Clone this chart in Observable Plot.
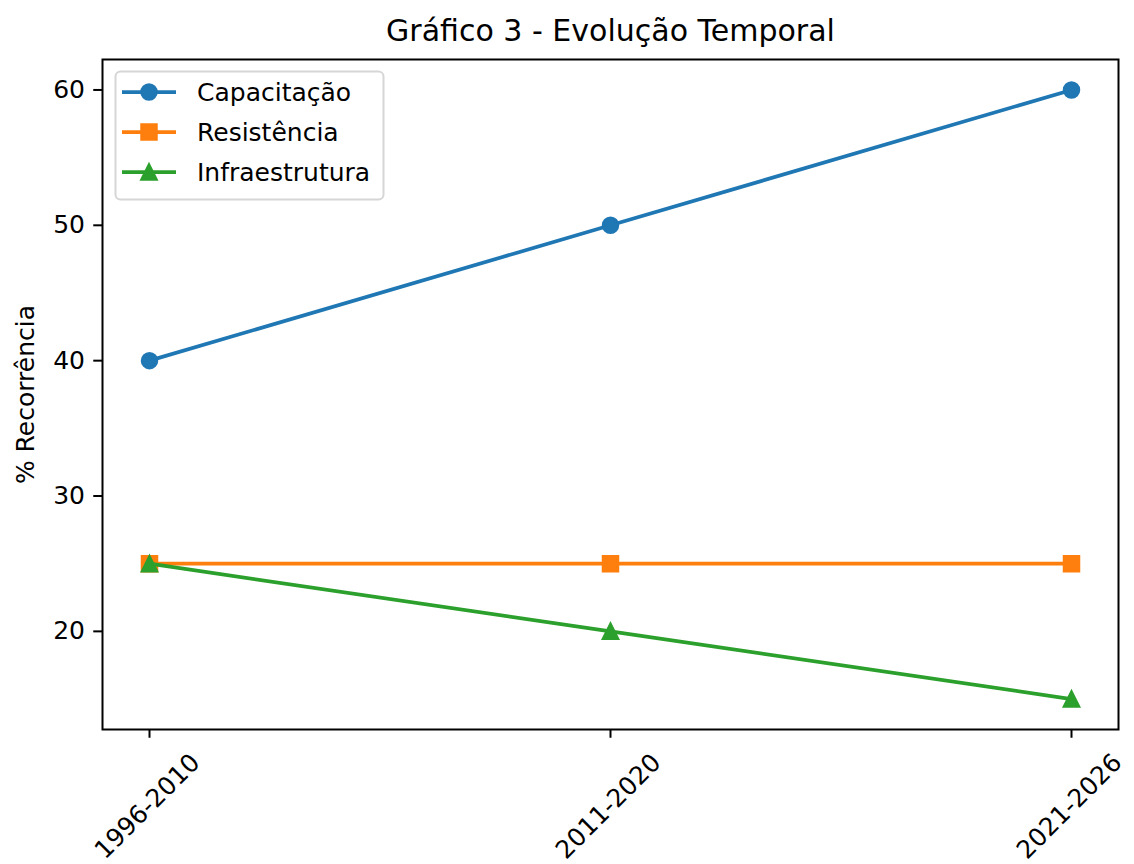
<!DOCTYPE html>
<html><head><meta charset="utf-8">
<script src="https://cdn.jsdelivr.net/npm/d3@7"></script>
<script src="https://cdn.jsdelivr.net/npm/@observablehq/plot@0.6"></script>
<style>body{margin:0;background:#fff;} svg{display:block}</style>
</head><body><div id="chart"></div>
<script>
const periods = ["1996-2010", "2011-2020", "2021-2026"];
const capacitacao = [40, 50, 60];
const resistencia = [25, 25, 25];
const infraestrutura = [25, 20, 15];
const seriesNames = ["Capacitação", "Resistência", "Infraestrutura"];
const colors = ["#1f77b4", "#ff7f0e", "#2ca02c"];
const yTicks = [20, 30, 40, 50, 60];
const title = "Gráfico 3 - Evolução Temporal";
const yLabel = "% Recorrência";

const symCircle = {draw(ctx, size){const r = Math.sqrt(size/Math.PI); ctx.moveTo(r,0); ctx.arc(0,0,r,0,2*Math.PI);}};
const symSquare = {draw(ctx, size){const r = Math.sqrt(size/Math.PI); ctx.rect(-r,-r,2*r,2*r);}};
const symTriangle = {draw(ctx, size){const r = Math.sqrt(size/Math.PI); ctx.moveTo(0,-r); ctx.lineTo(r,r); ctx.lineTo(-r,r); ctx.closePath();}};
const symbols = [symCircle, symSquare, symTriangle];
const seriesValues = [capacitacao, resistencia, infraestrutura];

const seriesData = seriesValues.map((vals, i) => periods.map((p, j) => ({serie: seriesNames[i], period: p, value: vals[j]})));

const marks = [];
seriesData.forEach((d, i) => {
  marks.push(Plot.line(d, {x: "period", y: "value", stroke: colors[i], strokeWidth: 3.75}));
  marks.push(Plot.dot(d, {x: "period", y: "value", symbol: symbols[i], r: 7.5, fill: colors[i], stroke: colors[i], strokeWidth: 2.5}));
});

const chart = Plot.plot({
  width: 1134,
  height: 864,
  marginLeft: 102,
  marginRight: 16,
  marginTop: 59,
  marginBottom: 135,
  style: {fontFamily: "DejaVu Sans", fontSize: "25px", color: "black", background: "white"},
  x: {type: "point", domain: periods, padding: 0.1},
  y: {domain: [12.75, 62.25]},
  marks: [
    ...marks,
    Plot.frame({stroke: "black", strokeWidth: 2}),
    Plot.axisY({ticks: yTicks, tickSize: 8.75, tickPadding: 8.75, fontSize: 25, strokeWidth: 2, label: null}),
    Plot.axisX({tickSize: 8.75, tickFormat: () => "", strokeWidth: 2, label: null}),
    Plot.text(periods, {x: d => d, frameAnchor: "bottom", dy: 77, dx: -2, rotate: -45, textAnchor: "middle", lineAnchor: "middle", fontSize: 25, fill: "black"}),
    Plot.text([yLabel], {frameAnchor: "left", dx: -77, rotate: -90, textAnchor: "middle", lineAnchor: "middle", fontSize: 25, fill: "black"}),
    Plot.text([title], {frameAnchor: "top", dy: -19, textAnchor: "middle", lineAnchor: "bottom", fontSize: 30, fill: "black"})
  ]
});

// Legend (upper left inside the frame)
const svg = d3.select(chart);
const lg = svg.append("g").attr("font-family", "DejaVu Sans").attr("font-size", 25).attr("text-anchor", "start");
lg.append("rect").attr("x", 115.5).attr("y", 71.5).attr("width", 268).attr("height", 128).attr("rx", 5)
  .attr("fill", "white").attr("fill-opacity", 0.8).attr("stroke", "#d6d6d6").attr("stroke-width", 2);
seriesNames.forEach((name, i) => {
  const cy = 92 + i * 40;
  lg.append("line").attr("x1", 122).attr("x2", 176).attr("y1", cy).attr("y2", cy)
    .attr("stroke", colors[i]).attr("stroke-width", 3.75);
  lg.append("path").attr("d", d3.symbol(symbols[i], Math.PI * 7.5 * 7.5)()).attr("transform", `translate(149,${cy})`)
    .attr("fill", colors[i]).attr("stroke", colors[i]).attr("stroke-width", 2.5);
  lg.append("text").attr("x", 197).attr("y", cy).attr("dy", "0.35em").attr("text-anchor", "start").attr("fill", "black").text(name);
});

document.getElementById("chart").appendChild(chart);
</script>
</body></html>
